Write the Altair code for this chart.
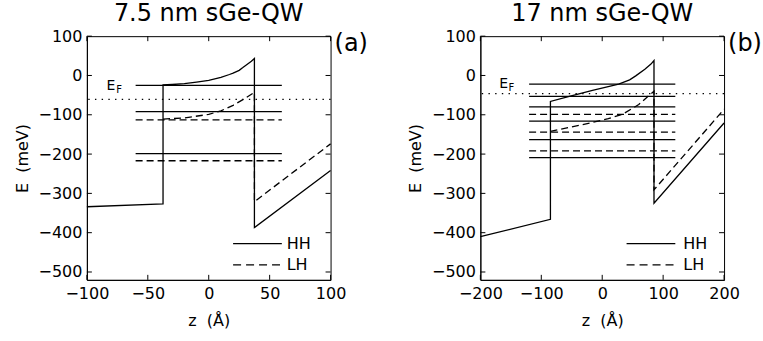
import altair as alt
import pandas as pd

FONT = "DejaVu Sans"

# ---------------- Panel (a): 7.5 nm sGe-QW ----------------
a_title = "7.5 nm sGe-QW"
a_tag = "(a)"
a_xdomain = [-100, 100]
a_xticks = [-100, -50, 0, 50, 100]
a_hh_z = [-100, -37.5, -37.5, -30, -20, -10, 0, 10, 17, 20, 25, 28, 30, 35, 37.5, 37.5, 100]
a_hh_e = [-334, -327, -24, -23, -21, -17, -12.5, -5, 2.5, 6, 13, 20, 25, 36, 43, -387, -242]
a_lh_z = [-37.5, -20, 0, 10, 20, 30, 37.5, 37.5, 100]
a_lh_e = [-111, -108, -99, -90, -76, -58, -43, -321, -174]
a_levels_hh = [-25, -92, -199]
a_levels_lh = [-113, -217]
a_level_span = [-60, 60]
a_ef = -61
a_ef_label_pos = [-84, -27, -76, -37]   # E (z, e), F (z, e)
a_legend_x = [20, 60]
a_legend_label_x = 64

# ---------------- Panel (b): 17 nm sGe-QW ----------------
b_title = "17 nm sGe-QW"
b_tag = "(b)"
b_xdomain = [-200, 200]
b_xticks = [-200, -100, 0, 100, 200]
b_hh_z = [-200, -85, -85, -54, -16, 27, 45, 55, 70, 80, 85, 85, 200]
b_hh_e = [-410, -366, -66, -53, -38, -22, -11, -1, 16, 29, 38, -325, -121]
b_lh_z = [-85, -50, -20, 10, 33, 60, 85, 85, 200]
b_lh_e = [-142, -131, -121, -110, -99, -74, -40, -291, -86]
b_levels_hh = [-22, -53, -80, -116, -163, -209]
b_levels_lh = [-99, -144, -192]
b_level_span = [-120, 120]
b_ef = -46
b_ef_label_pos = [-169, -21.5, -154, -31]
b_legend_x = [40, 120]
b_legend_label_x = 133

# ---------------- shared ----------------
y_domain = [-520, 100]
y_ticks = [100, 0, -100, -200, -300, -400, -500]
legend_names = ["HH", "LH"]
legend_e = [-428, -482]

W = 244
H = 244
TICK = 5


def panel(title, tag, xdom, xticks, hh_z, hh_e, lh_z, lh_e, lev_hh, lev_lh,
          span, ef, efpos, leg_x, leg_lx):
    xs = alt.Scale(domain=xdom, nice=False, zero=False)
    ys = alt.Scale(domain=y_domain, nice=False, zero=False)
    xax = alt.Axis(values=xticks, title="z\u00a0\u00a0(Å)", ticks=False,
                   labelPadding=6, titlePadding=11, format="d",
                   labelFlush=False, labelOverlap=False)
    yax = alt.Axis(values=y_ticks, title="E\u00a0\u00a0(meV)", ticks=False,
                   labelPadding=5, titlePadding=8, format="d",
                   labelFlush=False, labelOverlap=False)

    def X(f):
        return alt.X(f, scale=xs, axis=xax)

    def Y(f):
        return alt.Y(f, scale=ys, axis=yax)

    hh = pd.DataFrame({"z": hh_z, "e": hh_e, "i": range(len(hh_z))})
    lh = pd.DataFrame({"z": lh_z, "e": lh_e, "i": range(len(lh_z))})

    hh_line = alt.Chart(hh).mark_line(color="black", strokeWidth=1.3).encode(
        x=X("z:Q"), y=Y("e:Q"), order="i:Q")
    lh_line = alt.Chart(lh).mark_line(color="black", strokeWidth=1.3, strokeDash=[7, 4]).encode(
        x=X("z:Q"), y=Y("e:Q"), order="i:Q")

    lv_hh = pd.DataFrame({"e": lev_hh, "z0": span[0], "z1": span[1]})
    lv_lh = pd.DataFrame({"e": lev_lh, "z0": span[0], "z1": span[1]})
    levels_hh = alt.Chart(lv_hh).mark_rule(color="black", strokeWidth=1.3).encode(
        x=X("z0:Q"), x2="z1:Q", y=Y("e:Q"))
    levels_lh = alt.Chart(lv_lh).mark_rule(color="black", strokeWidth=1.3, strokeDash=[7, 4]).encode(
        x=X("z0:Q"), x2="z1:Q", y=Y("e:Q"))

    ef_rule = alt.Chart(pd.DataFrame({"e": [ef]})).mark_rule(
        color="black", strokeWidth=1.3, strokeDash=[1.4, 5.3]).encode(y=Y("e:Q"))

    ef_E = alt.Chart(pd.DataFrame({"z": [efpos[0]], "e": [efpos[1]], "t": ["E"]})).mark_text(
        font=FONT, fontSize=14, align="left", baseline="middle", color="black").encode(
        x=X("z:Q"), y=Y("e:Q"), text="t:N")
    ef_F = alt.Chart(pd.DataFrame({"z": [efpos[2]], "e": [efpos[3]], "t": ["F"]})).mark_text(
        font=FONT, fontSize=10, align="left", baseline="middle", color="black").encode(
        x=X("z:Q"), y=Y("e:Q"), text="t:N")

    leg = pd.DataFrame({"name": legend_names, "e": legend_e,
                        "z0": leg_x[0], "z1": leg_x[1], "zl": leg_lx})
    leg_hh = alt.Chart(leg[leg.name == "HH"]).mark_rule(color="black", strokeWidth=1.3).encode(
        x=X("z0:Q"), x2="z1:Q", y=Y("e:Q"))
    leg_lh = alt.Chart(leg[leg.name == "LH"]).mark_rule(
        color="black", strokeWidth=1.3, strokeDash=[8, 5]).encode(
        x=X("z0:Q"), x2="z1:Q", y=Y("e:Q"))
    leg_txt = alt.Chart(leg).mark_text(
        font=FONT, fontSize=16, align="left", baseline="middle", color="black").encode(
        x=X("zl:Q"), y=Y("e:Q"), text="name:N")

    xt = pd.DataFrame({"v": xticks})
    yt = pd.DataFrame({"v": y_ticks})
    tick_b = alt.Chart(xt).mark_rule(color="black", strokeWidth=1).encode(
        x=X("v:Q"), y=alt.value(H), y2=alt.value(H - TICK))
    tick_t = alt.Chart(xt).mark_rule(color="black", strokeWidth=1).encode(
        x=X("v:Q"), y=alt.value(0), y2=alt.value(TICK))
    tick_l = alt.Chart(yt).mark_rule(color="black", strokeWidth=1).encode(
        y=Y("v:Q"), x=alt.value(0), x2=alt.value(TICK))
    tick_r = alt.Chart(yt).mark_rule(color="black", strokeWidth=1).encode(
        y=Y("v:Q"), x=alt.value(W), x2=alt.value(W - TICK))

    tag_txt = alt.Chart(pd.DataFrame({"t": [tag]})).mark_text(
        font=FONT, fontSize=24, align="left", baseline="middle", color="black").encode(
        x=alt.value(W + 4), y=alt.value(8), text="t:N")

    return alt.layer(
        hh_line, lh_line, levels_hh, levels_lh, ef_rule, ef_E, ef_F,
        leg_hh, leg_lh, leg_txt, tick_b, tick_t, tick_l, tick_r, tag_txt
    ).properties(
        width=W, height=H,
        title=alt.TitleParams(title, font=FONT, fontSize=24, fontWeight="normal",
                              anchor="middle", color="black", offset=2),
    )


pa = panel(a_title, a_tag, a_xdomain, a_xticks, a_hh_z, a_hh_e, a_lh_z, a_lh_e,
           a_levels_hh, a_levels_lh, a_level_span, a_ef, a_ef_label_pos,
           a_legend_x, a_legend_label_x)
pb = panel(b_title, b_tag, b_xdomain, b_xticks, b_hh_z, b_hh_e, b_lh_z, b_lh_e,
           b_levels_hh, b_levels_lh, b_level_span, b_ef, b_ef_label_pos,
           b_legend_x, b_legend_label_x)

chart = alt.hconcat(pa, pb, spacing=150, bounds="flush").properties(
    padding={"left": 13, "top": 1, "right": 0, "bottom": 0}
).configure(background="white").configure_view(
    stroke="black", strokeWidth=1
).configure_axis(
    grid=False, domainColor="black", domainWidth=1, labelColor="black", titleColor="black",
    labelFont=FONT, titleFont=FONT, labelFontSize=16, titleFontSize=16,
    titleFontWeight="normal"
)

chart.save("out.html", embed_options={"renderer": "svg", "actions": False})
